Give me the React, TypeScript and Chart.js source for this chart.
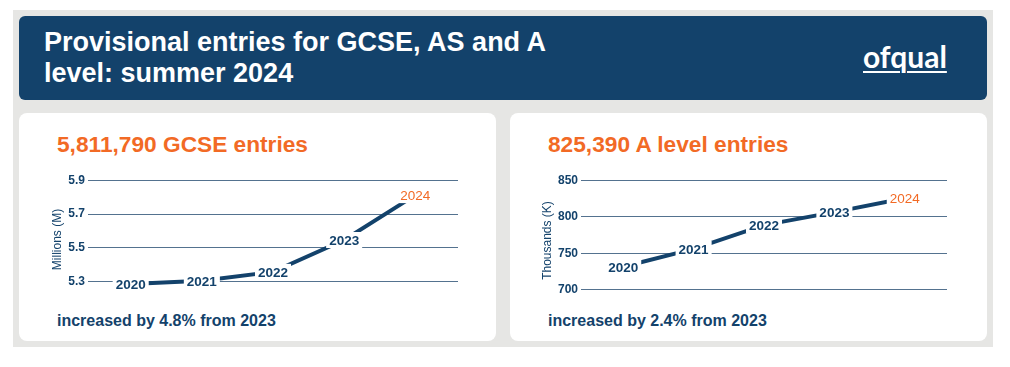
import React, { useEffect, useRef } from "react";
import { Chart, registerables } from "chart.js";

Chart.register(...registerables);

const years = [2020, 2021, 2022, 2023, 2024];
const gcseEntries = [5.288, 5.306, 5.359, 5.547, 5.812];
const aLevelEntries = [731.5, 756, 788.5, 806.3, 825.4];
const gcseTicks = [5.3, 5.5, 5.7, 5.9];
const aLevelTicks = [700, 750, 800, 850];

const NAVY = "#13426b";
const ORANGE = "#f26a25";
const FONT = '"Liberation Sans", Arial, sans-serif';

const labelPlugin = {
  id: "yearLabels",
  afterDatasetsDraw(chart: any) {
    const ctx = chart.ctx;
    const meta = chart.getDatasetMeta(0);
    ctx.save();
    meta.data.forEach((pt: any, i: number) => {
      const last = i === years.length - 1;
      const text = String(years[i]);
      ctx.font = (last ? "" : "bold ") + "13.5px " + FONT;
      const w = ctx.measureText(text).width;
      ctx.fillStyle = "#ffffff";
      ctx.fillRect(pt.x - w / 2 - 3, pt.y - 8, w + 6, 16);
      ctx.fillStyle = last ? ORANGE : NAVY;
      ctx.textAlign = "center";
      ctx.textBaseline = "middle";
      ctx.fillText(text, pt.x, pt.y + 1);
    });
    ctx.restore();
  },
};

function LineChart(props: {
  values: number[];
  ticks: number[];
  min: number;
  max: number;
  title: string;
  titlePad: number;
  style: React.CSSProperties;
}) {
  const ref = useRef<HTMLCanvasElement>(null);
  useEffect(() => {
    const chart = new Chart(ref.current as HTMLCanvasElement, {
      type: "line",
      data: {
        datasets: [
          {
            data: years.map((y, i) => ({ x: y, y: props.values[i] })),
            borderColor: NAVY,
            borderWidth: 4,
            pointRadius: 0,
            tension: 0,
            fill: false,
            clip: false as any,
          },
        ],
      },
      options: {
        animation: false,
        responsive: false,
        maintainAspectRatio: false,
        layout: { padding: { top: 10, right: 12, bottom: 10, left: 0 } },
        plugins: { legend: { display: false }, tooltip: { enabled: false } },
        scales: {
          x: { type: "linear", display: false, min: 2019.4, max: 2024.6 },
          y: {
            min: props.min,
            max: props.max,
            afterBuildTicks: (scale: any) => {
              scale.ticks = props.ticks.map((v) => ({ value: v }));
            },
            afterFit: (scale: any) => {
              scale.width = 48;
            },
            grid: { color: "#54728f", lineWidth: 1, drawTicks: false },
            border: { display: false },
            ticks: {
              padding: 3,
              color: NAVY,
              font: { family: FONT, size: 12, weight: "bold" },
              callback: (v: any) => String(v),
            },
            title: {
              display: true,
              text: props.title,
              color: NAVY,
              font: { family: FONT, size: 12 },
              padding: { top: props.titlePad, bottom: 0 },
            },
          },
        },
      },
      plugins: [labelPlugin],
    } as any);
    return () => chart.destroy();
  }, []);
  return <canvas ref={ref} width={props.style.width as number} height={props.style.height as number} style={{ position: "absolute", ...props.style }} />;
}

export default function App() {
  const card: React.CSSProperties = {
    position: "absolute",
    top: 113,
    width: 477,
    height: 228,
    background: "#ffffff",
    borderRadius: 8,
  };
  const cardTitle: React.CSSProperties = {
    position: "absolute",
    left: 38,
    top: 18,
    margin: 0,
    font: "bold 22.7px " + FONT,
    color: ORANGE,
    whiteSpace: "nowrap",
  };
  const foot: React.CSSProperties = {
    position: "absolute",
    left: 38,
    top: 199,
    margin: 0,
    font: "bold 16px " + FONT,
    color: NAVY,
    whiteSpace: "nowrap",
  };
  return (
    <div style={{ position: "absolute", left: 0, top: 0, width: 1010, height: 367, background: "#ffffff", fontFamily: FONT }}>
      <div style={{ position: "absolute", left: 13, top: 10, width: 980, height: 337, background: "#e6e6e4" }} />
      <div style={{ position: "absolute", left: 19, top: 16, width: 968, height: 84, background: NAVY, borderRadius: 6 }}>
        <div style={{ position: "absolute", left: 25, top: 11, font: "bold 27px " + FONT, lineHeight: "31px", color: "#ffffff", whiteSpace: "nowrap" }}>
          Provisional entries for GCSE, AS and A
          <br />
          level: summer 2024
        </div>
        <div style={{ position: "absolute", left: 844, top: 22, font: "bold 30px Lato, sans-serif", color: "#ffffff", textDecoration: "underline", textDecorationThickness: "2px", textUnderlineOffset: "3px", whiteSpace: "nowrap" }}>
          ofqual
        </div>
      </div>
      <div style={{ ...card, left: 19 }}>
        <div style={cardTitle}>5,811,790 GCSE entries</div>
        <div style={foot}>increased by 4.8% from 2023</div>
      </div>
      <div style={{ ...card, left: 510 }}>
        <div style={cardTitle}>825,390 A level entries</div>
        <div style={foot}>increased by 2.4% from 2023</div>
      </div>
      <LineChart
        values={gcseEntries}
        ticks={gcseTicks}
        min={5.2}
        max={5.9}
        title="Millions (M)"
        titlePad={10}
        style={{ left: 40, top: 170, width: 430, height: 139 }}
      />
      <LineChart
        values={aLevelEntries}
        ticks={aLevelTicks}
        min={685}
        max={850}
        title="Thousands (K)"
        titlePad={7}
        style={{ left: 533, top: 170, width: 426, height: 141 }}
      />
    </div>
  );
}
